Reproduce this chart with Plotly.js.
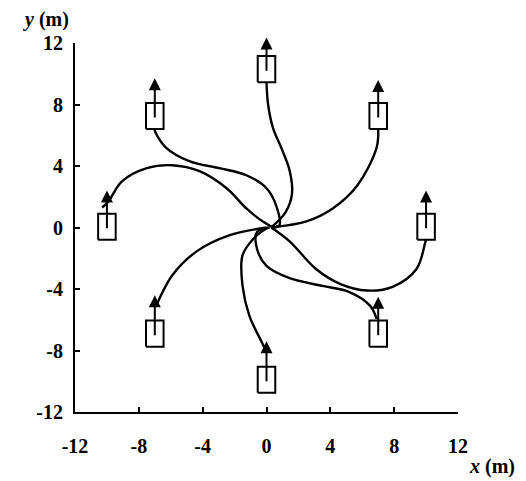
<!DOCTYPE html>
<html><head><meta charset="utf-8">
<script src="https://cdn.plot.ly/plotly-3.0.1.min.js"></script>
<style>html,body{margin:0;padding:0;background:#fff}#chart{width:526px;height:481px}</style>
</head><body><div id="chart"></div>
<script>
// tick values and labels
var tickVals = [-12, -8, -4, 0, 4, 8, 12];
var tickText = ["-12", "-8", "-4", "0", "4", "8", "12"];

// vehicle centres (m) and heading arrow tips (m)
var vehX = [0, 7, 10, 7, 0, -7, -10, -7];
var vehY = [10.3, 7.25, 0.05, -6.9, -9.9, -6.9, 0.05, 7.25];
var tipY = [12.35, 9.6, 2.4, -4.5, -7.4, -4.4, 2.4, 9.7];

// trajectories from origin to each vehicle
var path0X = [0.3, 1.2, 1.6, 1.45, 1.0, 0.4, 0.1, 0.0];
var path0Y = [0.0, 1.0, 2.2, 3.7, 5.0, 6.5, 8.0, 9.45];
var path1X = [0.6, 2.5, 4.15, 5.7, 6.9, 7.0];
var path1Y = [0.05, 0.4, 1.24, 2.75, 5.2, 6.4];
var path2X = [0.3, 1.45, 3.1, 4.6, 6.3, 7.9, 9.4, 9.94, 10.0];
var path2Y = [0.0, -0.9, -2.7, -3.66, -4.1, -3.86, -2.7, -1.0, -0.8];
var path3X = [0.2, -0.6, -0.6, 0.0, 1.45, 3.5, 5.2, 6.5, 6.9];
var path3Y = [0.0, -0.3, -1.37, -2.5, -3.3, -3.8, -4.2, -5.1, -5.95];
var path4X = [0.1, -0.7, -1.5, -1.5, -1.07, -0.3, 0.0];
var path4Y = [0.0, -0.6, -1.8, -3.8, -5.75, -7.45, -8.1];
var path5X = [0.0, -2.3, -4.4, -5.9, -6.7, -6.9];
var path5Y = [0.0, -0.5, -1.57, -3.1, -4.6, -5.1];
var path6X = [0.4, -0.25, -1.26, -2.5, -4.2, -5.9, -7.5, -9.06, -9.9, -10.3];
var path6Y = [0.0, 0.4, 1.24, 2.55, 3.66, 4.05, 3.86, 3.0, 1.7, 1.3];
var path7X = [0.3, 0.8, 0.6, 0.0, -1.26, -2.96, -4.8, -6.3, -7.0, -7.0];
var path7Y = [0.0, 0.13, 1.44, 2.55, 3.4, 3.86, 4.3, 5.2, 6.3, 6.4];

var paths = [[path0X,path0Y],[path1X,path1Y],[path2X,path2Y],[path3X,path3Y],
             [path4X,path4Y],[path5X,path5Y],[path6X,path6Y],[path7X,path7Y]];

var traces = [];
paths.forEach(function(p){
  traces.push({x:p[0], y:p[1], type:'scatter', mode:'lines',
    line:{color:'#000', width:2.4, shape:'spline', smoothing:1}, hoverinfo:'skip', cliponaxis:false});
});

// boxes
var hw = 0.55, hh = 0.85;
var bx = [], by = [];
for (var i = 0; i < vehX.length; i++) {
  bx.push(vehX[i]-hw, vehX[i]+hw, vehX[i]+hw, vehX[i]-hw, vehX[i]-hw, null);
  by.push(vehY[i]-hh, vehY[i]-hh, vehY[i]+hh, vehY[i]+hh, vehY[i]-hh, null);
}
traces.push({x:bx, y:by, type:'scatter', mode:'lines', line:{color:'#000', width:2}, hoverinfo:'skip', cliponaxis:false});

var annotations = [];
for (var j = 0; j < vehX.length; j++) {
  annotations.push({x:vehX[j], y:tipY[j], ax:vehX[j], ay:vehY[j]-0.2, xref:'x', yref:'y', axref:'x', ayref:'y',
    text:'', showarrow:true, arrowhead:2, arrowsize:1.2, arrowwidth:2, arrowcolor:'#000'});
}
var fontBase = {family:'"Liberation Serif", "Times New Roman", serif', size:20, color:'#000', weight:'bold'};
annotations.push({xref:'paper', yref:'paper', x:-0.075, y:1.065, xanchor:'center', yanchor:'middle', showarrow:false,
  text:'<i>y</i> (m)', font:fontBase});
annotations.push({xref:'paper', yref:'paper', x:1.09, y:-0.148, xanchor:'center', yanchor:'middle', showarrow:false,
  text:'<i>x</i> (m)', font:fontBase});

var axisCommon = {range:[-12,12], tickvals:tickVals, ticktext:tickText, showgrid:false, zeroline:false,
  showline:true, linecolor:'#000', linewidth:2, ticks:'inside', ticklen:5, tickwidth:2, tickcolor:'#000',
  tickfont:fontBase, fixedrange:true};

var layout = {
  width:526, height:481, paper_bgcolor:'#fff', plot_bgcolor:'#fff', showlegend:false,
  margin:{l:75, r:68, t:43, b:69},
  xaxis: Object.assign({}, axisCommon, {ticklabelstandoff:15}),
  yaxis: Object.assign({}, axisCommon, {ticklabelstandoff:6}),
  annotations: annotations
};
Plotly.newPlot('chart', traces, layout, {staticPlot:true});
</script></body></html>
